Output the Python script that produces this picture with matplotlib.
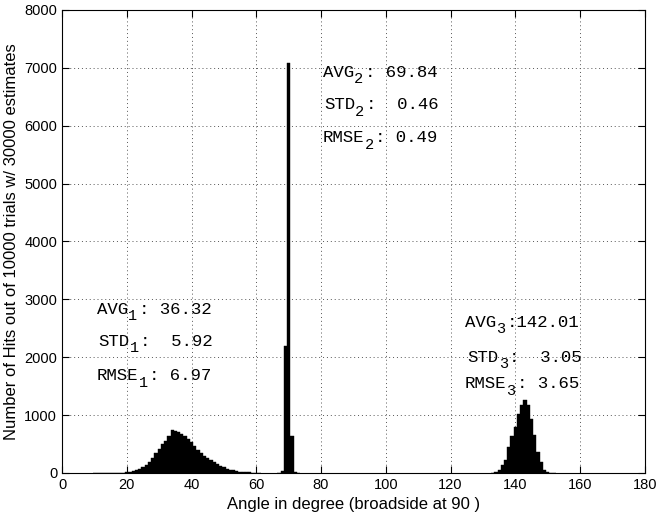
import matplotlib
matplotlib.use("Agg")
import matplotlib.pyplot as plt
import numpy as np

# ---- data (histogram bins centred on integer degrees) ----
src1_angles = list(range(10, 62))
src1_counts = [1, 1, 2, 2, 3, 3, 4, 5, 6, 8, 12, 18, 28, 45, 70, 100, 140, 190, 260, 340,
               420, 500, 560, 640, 735, 720, 700, 680, 640, 590, 540, 470, 390, 340, 300,
               260, 220, 185, 150, 120, 95, 75, 60, 45, 35, 25, 20, 15, 10, 8, 5, 3]

src2_angles = [67, 68, 69, 70, 71, 72, 73]
src2_counts = [5, 30, 2190, 7080, 640, 20, 3]

src3_angles = list(range(133, 153))
src3_counts = [5, 17, 46, 132, 230, 450, 634, 795, 1025, 1170, 1265, 1170, 939, 651,
               363, 190, 58, 15, 5, 2]

# stat names, source index (subscript) and value strings
stat_names = ["AVG", "STD", "RMSE"]
stat_subs = ["1", "2", "3"]
stat_rest = [[": 36.32", ":  5.92", ": 6.97"],
             [": 69.84", ":  0.46", ": 0.49"],
             [":142.01", ":  3.05", ": 3.65"]]
stats_x = [[10.8, 11.3, 10.8], [80.6, 80.9, 80.6], [124.4, 125.3, 124.4]]
stats_y = [[2830, 2280, 1680], [6920, 6360, 5790], [2600, 2000, 1540]]

x_ticks = list(range(0, 181, 20))
y_ticks = list(range(0, 8001, 1000))

plt.rcParams['font.family'] = ['Liberation Sans', 'DejaVu Sans']

fig = plt.figure(figsize=(6.6, 5.2), dpi=100)
ax = fig.add_axes([0.094, 0.0904, 0.883, 0.8906])

for a, c in [(src1_angles, src1_counts), (src2_angles, src2_counts), (src3_angles, src3_counts)]:
    ax.bar(a, c, width=1.0, color='black', edgecolor='black', linewidth=0.3)

ax.set_xlim(0, 180)
ax.set_ylim(0, 8000)
ax.set_xticks(x_ticks)
ax.set_yticks(y_ticks)
ax.tick_params(direction='in', top=True, right=True, labelsize=10.5, length=5)
ax.grid(True, linestyle=(0, (1, 3)), color='#555555', linewidth=0.7)
ax.set_axisbelow(True)
for s in ax.spines.values():
    s.set_linewidth(0.8)

ax.set_xlabel("Angle in degree (broadside at 90 )", fontsize=12)
ax.set_ylabel("Number of Hits out of 10000 trials w/ 30000 estimates", fontsize=12)

fs = 12.5
cw = 0.6 * fs  # monospace advance in points
for i in range(3):
    for j, name in enumerate(stat_names):
        x, y = stats_x[i][j], stats_y[i][j]
        ax.annotate(name, (x, y), xytext=(0, 0), textcoords='offset points',
                    family='Liberation Mono', fontsize=fs, va='center', ha='left')
        ax.annotate(stat_subs[i], (x, y), xytext=(len(name) * cw, -5),
                    textcoords='offset points',
                    family='Liberation Mono', fontsize=fs - 1.5, va='center', ha='left')
        ax.annotate(stat_rest[i][j], (x, y), xytext=((len(name) + 1) * cw, 0),
                    textcoords='offset points',
                    family='Liberation Mono', fontsize=fs, va='center', ha='left')

fig.savefig("out.png", dpi=100)
